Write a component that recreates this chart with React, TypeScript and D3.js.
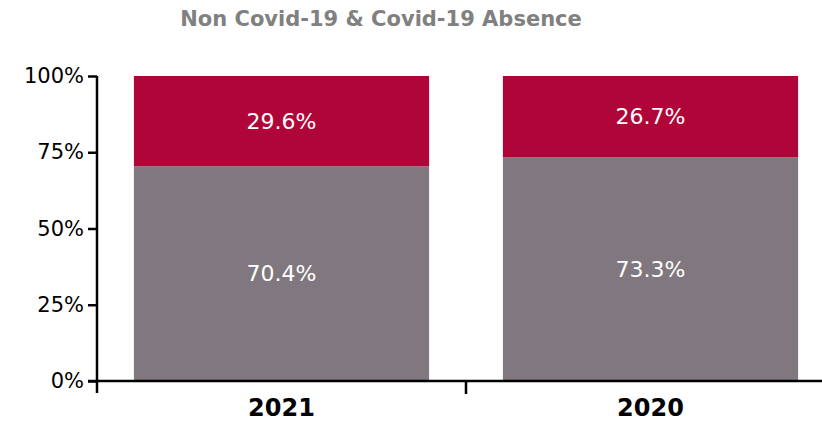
import { useEffect, useRef } from 'react';
import * as d3 from 'd3';

const CATEGORIES = ['2021', '2020'];
const NON_COVID = [70.4, 73.3];
const COVID = [29.6, 26.7];
const Y_TICKS = [0, 25, 50, 75, 100];

const WIDTH = 822;
const HEIGHT = 427;
const MARGIN = { top: 76, right: -13, bottom: 46, left: 97 };
const COLOR_NON = '#80787e';
const COLOR_COVID = '#b00538';
const FONT = 'DejaVu Sans, Verdana, sans-serif';

export default function App() {
  const svgRef = useRef<SVGSVGElement>(null);

  useEffect(() => {
    const svg = svgRef.current;
    if (!svg) return;
    const root = d3.select(svg);
    root.selectAll('*').remove();

    const innerW = WIDTH - MARGIN.left - MARGIN.right;
    const innerH = HEIGHT - MARGIN.top - MARGIN.bottom;

    const x = d3.scaleBand<string>().domain(CATEGORIES).range([0, innerW]).padding(0);
    const y = d3.scaleLinear().domain([0, 100]).range([innerH, 0]);
    const barW = x.bandwidth() * 0.8;

    const g = root.append('g').attr('transform', `translate(${MARGIN.left},${MARGIN.top})`);

    // title
    root.append('text')
      .attr('x', 381)
      .attr('y', 26)
      .attr('text-anchor', 'middle')
      .attr('fill', '#808080')
      .attr('font-family', FONT)
      .attr('font-weight', 'bold')
      .attr('font-size', '21px')
      .text('Non Covid-19 & Covid-19 Absence');

    // bars
    CATEGORIES.forEach((c, i) => {
      const x0 = (x(c) ?? 0) + (x.bandwidth() - barW) / 2;
      const cx = x0 + barW / 2;
      g.append('rect')
        .attr('x', x0)
        .attr('y', y(NON_COVID[i]))
        .attr('width', barW)
        .attr('height', y(0) - y(NON_COVID[i]))
        .attr('fill', COLOR_NON);
      g.append('rect')
        .attr('x', x0)
        .attr('y', y(NON_COVID[i] + COVID[i]))
        .attr('width', barW)
        .attr('height', y(NON_COVID[i]) - y(NON_COVID[i] + COVID[i]))
        .attr('fill', COLOR_COVID);

      g.append('text')
        .attr('x', cx)
        .attr('y', y(NON_COVID[i] / 2))
        .attr('dy', '0.35em')
        .attr('text-anchor', 'middle')
        .attr('fill', '#ffffff')
        .attr('font-family', FONT)
        .attr('font-size', '22px')
        .text(`${NON_COVID[i].toFixed(1)}%`);
      g.append('text')
        .attr('x', cx)
        .attr('y', y(NON_COVID[i] + COVID[i] / 2))
        .attr('dy', '0.35em')
        .attr('text-anchor', 'middle')
        .attr('fill', '#ffffff')
        .attr('font-family', FONT)
        .attr('font-size', '22px')
        .text(`${COVID[i].toFixed(1)}%`);
    });

    // y axis
    const yAxis = g.append('g')
      .call(d3.axisLeft(y).tickValues(Y_TICKS).tickSize(9).tickPadding(4).tickFormat((d) => `${d}%`));
    yAxis.select('.domain').remove();
    yAxis.append('line')
      .attr('x1', 0).attr('x2', 0)
      .attr('y1', 0).attr('y2', innerH + 12)
      .attr('stroke', '#000').attr('stroke-width', 2.5);
    yAxis.selectAll('.tick line').attr('stroke', '#000').attr('stroke-width', 2.5);
    yAxis.selectAll('.tick text')
      .attr('fill', '#000')
      .attr('font-family', FONT)
      .attr('font-size', '21px');

    // x axis
    const xAxis = g.append('g').attr('transform', `translate(0,${innerH})`);
    xAxis.append('line')
      .attr('x1', -9).attr('x2', innerW)
      .attr('y1', 0).attr('y2', 0)
      .attr('stroke', '#000').attr('stroke-width', 2.5);
    xAxis.append('line')
      .attr('x1', x(CATEGORIES[1]) ?? 0).attr('x2', x(CATEGORIES[1]) ?? 0)
      .attr('y1', 0).attr('y2', 13)
      .attr('stroke', '#000').attr('stroke-width', 2.5);
    CATEGORIES.forEach((c) => {
      xAxis.append('text')
        .attr('x', (x(c) ?? 0) + x.bandwidth() / 2)
        .attr('y', 35)
        .attr('text-anchor', 'middle')
        .attr('fill', '#000')
        .attr('font-family', FONT)
        .attr('font-weight', 'bold')
        .attr('font-size', '24px')
        .text(c);
    });
  }, []);

  return (
    <svg
      ref={svgRef}
      width={WIDTH}
      height={HEIGHT}
      style={{ position: 'absolute', left: 0, top: 0, background: '#fff' }}
    />
  );
}
